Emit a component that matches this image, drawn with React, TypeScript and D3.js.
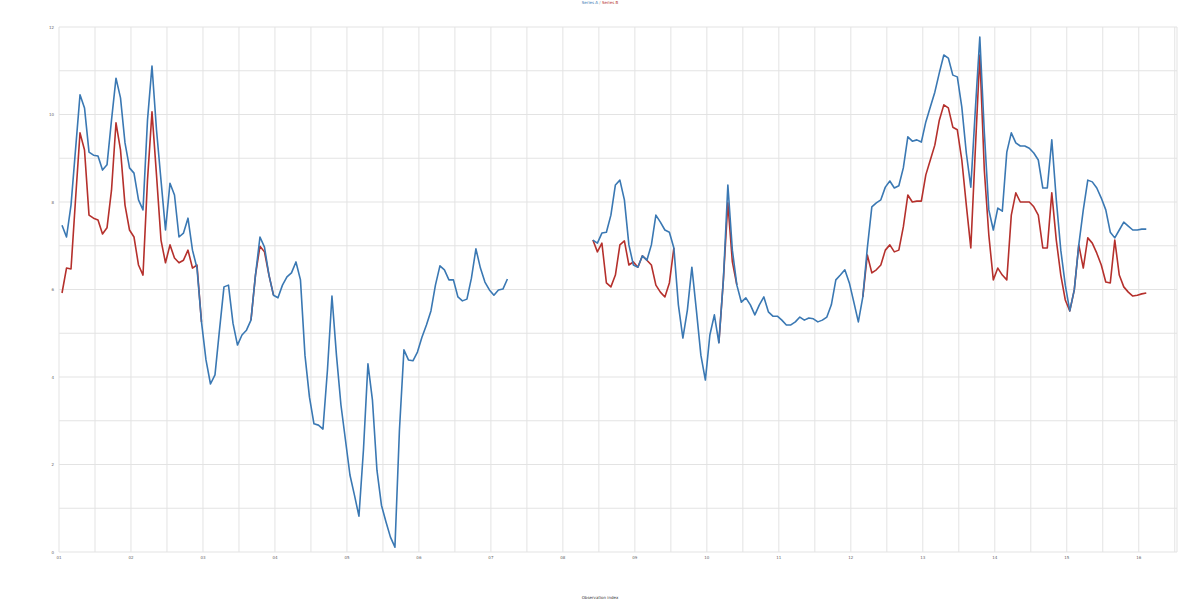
import React from "react";
import * as d3 from "d3";

const _ = null;

// Series values, one per step (null = no data)
const blueSeries: (number | null)[] = [
  7.47, 7.20, 7.93, 9.19, 10.45, 10.15, 9.14, 9.07, 9.05, 8.73,
  8.85, 9.87, 10.83, 10.38, 9.35, 8.78, 8.66, 8.05, 7.82, 9.87,
  11.11, 9.65, 8.50, 7.36, 8.43, 8.16, 7.20, 7.29, 7.63, 6.90,
  6.49, 5.26, 4.39, 3.84, 4.05, 5.07, 6.06, 6.10, 5.23, 4.73,
  4.96, 5.07, 5.30, 6.33, 7.20, 6.97, 6.33, 5.87, 5.81, 6.10,
  6.29, 6.38, 6.63, 6.22, 4.50, 3.54, 2.93, 2.90, 2.81, 4.16,
  5.85, 4.50, 3.36, 2.56, 1.76, 1.30, 0.82, 2.33, 4.30, 3.47,
  1.87, 1.07, 0.69, 0.34, 0.11, 2.79, 4.62, 4.39, 4.37, 4.57,
  4.91, 5.19, 5.51, 6.10, 6.54, 6.45, 6.22, 6.22, 5.83, 5.74,
  5.78, 6.26, 6.93, 6.49, 6.17, 5.99, 5.87, 5.99, 6.01, 6.24,
  _, _, _, _, _, _, _, _, _, _,
  _, _, _, _, _, _, _, _,
  7.13, 7.06, 7.29, 7.31, 7.70, 8.39, 8.50, 8.05, 7.02, 6.56,
  6.51, 6.77, 6.67, 7.02, 7.70, 7.54, 7.36, 7.31, 6.95, 5.65,
  4.89, 5.53, 6.51, 5.53, 4.50, 3.93, 4.96, 5.42, 4.78, 6.22,
  8.39, 6.90, 6.10, 5.71, 5.81, 5.65, 5.42, 5.65, 5.83, 5.49,
  5.39, 5.39, 5.30, 5.19, 5.19, 5.26, 5.37, 5.30, 5.35, 5.33,
  5.26, 5.30, 5.37, 5.65, 6.22, 6.33, 6.45, 6.15, 5.71, 5.26,
  5.83, 6.95, 7.89, 7.98, 8.05, 8.34, 8.48, 8.32, 8.37, 8.78,
  9.49, 9.39, 9.42, 9.37, 9.83, 10.17, 10.51, 10.95, 11.36, 11.29,
  10.90, 10.86, 10.17, 9.12, 8.34, 10.10, 11.77, 9.60, 7.82, 7.36,
  7.86, 7.79, 9.14, 9.58, 9.35, 9.28, 9.28, 9.23, 9.12, 8.96,
  8.32, 8.32, 9.42, 8.05, 6.90, 6.10, 5.51, 5.99, 7.02, 7.82,
  8.50, 8.46, 8.32, 8.09, 7.82, 7.31, 7.18, 7.36, 7.54, 7.45,
  7.36, 7.36, 7.38, 7.38,
];

const redSeries: (number | null)[] = [
  5.92, 6.49, 6.47, 8.05, 9.58, 9.19, 7.70, 7.63, 7.59, 7.27,
  7.41, 8.27, 9.81, 9.19, 7.93, 7.36, 7.20, 6.56, 6.33, 8.50,
  10.06, 8.62, 7.13, 6.61, 7.02, 6.72, 6.61, 6.67, 6.90, 6.49,
  6.56, 5.26,
  _, _, _, _, _, _, _, _, _, _,
  5.30, 6.33, 6.99, 6.86, 6.33, 5.87,
  _, _, _, _, _, _, _, _, _, _,
  _, _, _, _, _, _, _, _, _, _,
  _, _, _, _, _, _, _, _, _, _,
  _, _, _, _, _, _, _, _, _, _,
  _, _, _, _, _, _, _, _, _, _,
  _, _, _, _, _, _, _, _, _, _,
  _, _, _, _, _, _, _, _, _, _,
  7.13, 6.86, 7.06, 6.15, 6.06, 6.33, 7.02, 7.11, 6.56, 6.63,
  6.51, 6.77, 6.67, 6.56, 6.10, 5.94, 5.83, 6.15, 6.95,
  _, _, _, _, _, _, _, _, _,
  4.78, 6.22, 7.98, 6.63, 6.10,
  _, _, _, _, _, _, _, _, _, _,
  _, _, _, _, _, _, _, _, _, _,
  _, _, _, _, _, _, _,
  5.83, 6.79, 6.38, 6.45, 6.56, 6.90, 7.02, 6.86, 6.90, 7.43,
  8.16, 8.00, 8.02, 8.02, 8.62, 8.96, 9.30, 9.87, 10.22, 10.15,
  9.71, 9.65, 8.96, 7.93, 6.95, 9.19, 11.36, 8.73, 7.25, 6.22,
  6.49, 6.33, 6.22, 7.70, 8.21, 8.00, 8.00, 8.00, 7.89, 7.70,
  6.95, 6.95, 8.21, 7.13, 6.33, 5.76, 5.51, 5.99, 7.02, 6.49,
  7.18, 7.06, 6.83, 6.56, 6.17, 6.15, 7.13, 6.33, 6.06, 5.94,
  5.85, 5.87, 5.90, 5.92,
];

const xTickLabels = [
  "01", "02", "03", "04", "05", "06", "07", "08",
  "09", "10", "11", "12", "13", "14", "15", "16",
];
const yTickValues = [0, 2, 4, 6, 8, 10, 12];
const seriesNames = ["Series A", "Series B"];
const xAxisTitle = "Observation index";

export default function App() {
  const W = 1200;
  const H = 600;
  const left = 59, right = 1177, top = 27, bottom = 552;
  const xStep = 16;
  const pointOffset = 0.67;

  const x = d3.scaleLinear().domain([0, 248.5]).range([left, right]);
  const y = d3.scaleLinear().domain([0, 12]).range([bottom, top]);

  const xMajor = d3.range(0, xTickLabels.length).map((i) => i * xStep);
  const xGrid = d3.range(0, 248.5, xStep / 2);
  const yGrid = d3.range(0, 12.001, 1);

  const line = d3
    .line<number | null>()
    .defined((d) => d != null)
    .x((_d, i) => x(i + pointOffset))
    .y((d) => y(d as number));

  const blueColor = "#3a78b3";
  const redColor = "#b5302c";
  const gridColor = "#e3e3e3";
  const font = "'DejaVu Sans', sans-serif";

  return (
    <svg
      width={W}
      height={H}
      style={{ position: "absolute", left: 0, top: 0, display: "block", background: "#fff" }}
    >
      <g>
        {yGrid.map((v) => (
          <line key={"hy" + v} x1={left} x2={right} y1={y(v)} y2={y(v)} stroke={gridColor} strokeWidth={1} />
        ))}
        {xGrid.map((v) => (
          <line key={"vx" + v} x1={x(v)} x2={x(v)} y1={top} y2={bottom} stroke={gridColor} strokeWidth={1} />
        ))}
        <line x1={right} x2={right} y1={top} y2={bottom} stroke={gridColor} strokeWidth={1} />
      </g>
      <path d={line(redSeries) || ""} fill="none" stroke={redColor} strokeWidth={1.6} strokeLinejoin="round" />
      <path d={line(blueSeries) || ""} fill="none" stroke={blueColor} strokeWidth={1.6} strokeLinejoin="round" />
      <g fontFamily={font} fontSize={4} fill="#666">
        {yTickValues.map((v) => (
          <text key={"yl" + v} x={left - 5} y={y(v) + 1.5} textAnchor="end">
            {v}
          </text>
        ))}
        {xMajor.map((v, i) => (
          <text key={"xl" + v} x={x(v)} y={bottom + 7} textAnchor="middle">
            {xTickLabels[i]}
          </text>
        ))}
      </g>
      <text x={W / 2} y={4} textAnchor="middle" fontFamily={font} fontSize={4}>
        <tspan fill={blueColor}>{seriesNames[0]}</tspan>
        <tspan fill="#999"> / </tspan>
        <tspan fill={redColor}>{seriesNames[1]}</tspan>
      </text>
      <text x={W / 2} y={599} textAnchor="middle" fontFamily={font} fontSize={4} fill="#333">
        {xAxisTitle}
      </text>
    </svg>
  );
}
